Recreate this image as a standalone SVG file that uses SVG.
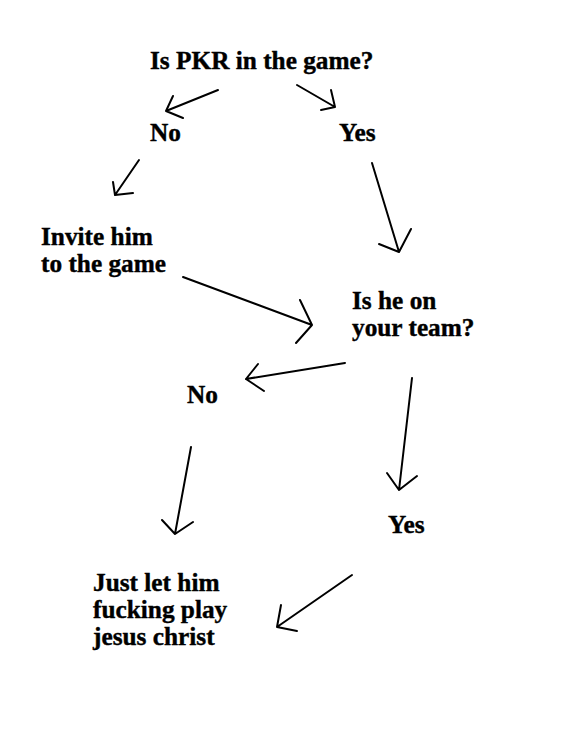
<svg xmlns="http://www.w3.org/2000/svg" width="562" height="750" viewBox="0 0 562 750">
<style>
text{font-family:"Liberation Serif","Times New Roman",serif;font-weight:bold;font-size:25.3px;fill:#000;stroke:#000;stroke-width:0.4}
.c path{fill:none;stroke:#000;stroke-width:2;stroke-linecap:round;stroke-linejoin:round}
</style>
<rect width="562" height="750" fill="#fff"/>
<g id="q1"><text x="150" y="69">Is PKR in the game?</text></g>
<g id="no1"><text x="150" y="141">No</text></g>
<g id="yes1"><text x="339" y="141">Yes</text></g>
<g id="invite"><text x="41" y="245">Invite him</text><text x="41" y="272">to the game</text></g>
<g id="q2"><text x="352" y="309">Is he on</text><text x="352" y="336">your team?</text></g>
<g id="no2"><text x="187" y="403">No</text></g>
<g id="yes2"><text x="388" y="533">Yes</text></g>
<g id="end"><text x="93" y="591">Just let him</text><text x="93" y="618">fucking play</text><text x="93" y="645">jesus christ</text></g>
<g class="c" id="connectors">
<path d="M218 90 L166 111 M173 96 L166 111 L183 118"/>
<path d="M297 85 L335 107 M331 90 L335 107 L321 110"/>
<path d="M139 160 L115 195 M113 182 L115 195 L133 193"/>
<path d="M372 163 L399 252 M379 244 L399 252 L411 229"/>
<path d="M183 277 L312 325 M300 300 L312 325 L296 343"/>
<path d="M345 363 L246 379 M258 364 L246 379 L264 391"/>
<path d="M412 378 L399 490 M387 473 L399 490 L417 476"/>
<path d="M191 447 L175 534 M162 520 L175 534 L193 522"/>
<path d="M352 575 L277 627 M281 605 L277 627 L297 631"/>
</g>
</svg>
